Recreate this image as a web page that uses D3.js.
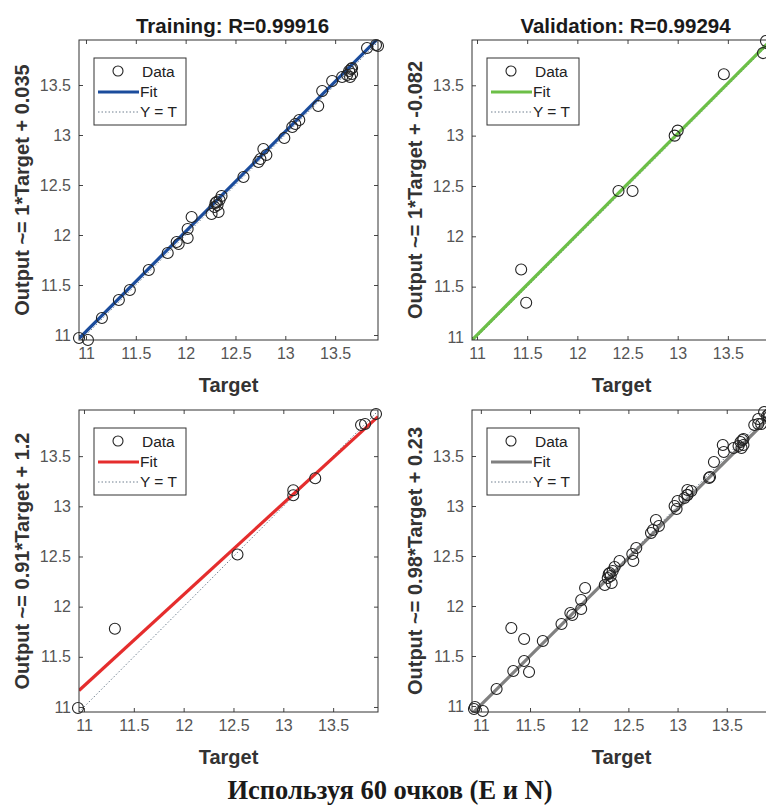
<!DOCTYPE html>
<html>
<head>
<meta charset="utf-8">
<script src="https://cdn.jsdelivr.net/npm/d3@7"></script>
<style>
  body { margin: 0; background: #fff; }
  svg { display: block; }
  .tick text { font-family: "Liberation Sans", Arial, sans-serif; font-size: 16px; fill: #555; }
  .tick line { stroke: #444; }
</style>
</head>
<body>
<div id="chart"></div>
<script>
// training points: [target, output]
const trainPoints = [
  [10.93, 10.97], [11.02, 10.95], [11.16, 11.17], [11.33, 11.35], [11.44, 11.45],
  [11.63, 11.65], [11.82, 11.82], [11.91, 11.93], [11.93, 11.91], [12.02, 11.97],
  [12.02, 12.06], [12.06, 12.18], [12.26, 12.21], [12.29, 12.28], [12.31, 12.33],
  [12.32, 12.30], [12.33, 12.23], [12.34, 12.35], [12.36, 12.39], [12.58, 12.58],
  [12.73, 12.73], [12.75, 12.76], [12.78, 12.86], [12.81, 12.80], [12.99, 12.97],
  [13.07, 13.08], [13.10, 13.11], [13.14, 13.15], [13.33, 13.29], [13.37, 13.44],
  [13.47, 13.54], [13.57, 13.58], [13.62, 13.60], [13.64, 13.64], [13.65, 13.58],
  [13.66, 13.66], [13.67, 13.61], [13.67, 13.67], [13.82, 13.87], [13.91, 13.90],
  [13.93, 13.89], [12.30, 12.32]
];
const validPoints = [
  [11.44, 11.67], [11.49, 11.34], [12.41, 12.45], [12.55, 12.45], [12.97, 13.00],
  [13.00, 13.05], [13.46, 13.61], [13.85, 13.82], [13.88, 13.94]
];
const testPoints = [
  [10.94, 10.99], [11.31, 11.78], [12.54, 12.52], [13.10, 13.11], [13.10, 13.16],
  [13.32, 13.28], [13.78, 13.81], [13.82, 13.82], [13.93, 13.92]
];
const allPoints = trainPoints.concat(validPoints, testPoints);

const panelTitles = ["Training: R=0.99916", "Validation: R=0.99294", "", ""];
// fitted lines as drawn in the picture
const fitSlopes = [1, 1, 0.91, 0.98];
const fitIntercepts = [0.035, 0.02, 1.2, 0.23];
const yLabels = [
  "Output ~= 1*Target + 0.035",
  "Output ~= 1*Target + -0.082",
  "Output ~= 0.91*Target + 1.2",
  "Output ~= 0.98*Target + 0.23"
];
const fitColors = ["#1b4c9c", "#6cbf47", "#e52d2d", "#808080"];
const xLimits = [[10.93, 13.93], [10.95, 13.93], [10.95, 13.95], [10.91, 13.95]];
const yLimits = [[10.95, 13.95], [10.97, 13.95], [10.95, 13.96], [10.94, 13.96]];
const tickValues = [11, 11.5, 12, 12.5, 13, 13.5];
const tickLabels = ["11", "11.5", "12", "12.5", "13", "13.5"];
const legendLabels = ["Data", "Fit", "Y = T"];
const caption = "Используя 60 очков (E и N)";

const panelData = [trainPoints, validPoints, testPoints, allPoints];
const panelBoxes = [
  { left: 79, top: 40, w: 299, h: 300 },
  { left: 472, top: 40, w: 299, h: 300 },
  { left: 79, top: 410, w: 299, h: 302 },
  { left: 472, top: 410, w: 299, h: 302 }
];

const svg = d3.select("#chart").append("svg")
  .attr("width", 766)
  .attr("height", 806);

panelData.forEach((pts, i) => {
  const b = panelBoxes[i];
  const g = svg.append("g").attr("transform", `translate(${b.left},${b.top})`);
  const x = d3.scaleLinear().domain(xLimits[i]).range([0, b.w]);
  const y = d3.scaleLinear().domain(yLimits[i]).range([b.h, 0]);
  const fmt = v => tickLabels[tickValues.indexOf(v)];

  g.append("rect").attr("width", b.w).attr("height", b.h).attr("fill", "#fff");

  g.append("g").attr("transform", `translate(0,${b.h})`)
    .call(d3.axisBottom(x).tickValues(tickValues).tickFormat(fmt).tickSize(-4).tickSizeOuter(0).tickPadding(8))
    .call(a => a.select(".domain").remove());
  g.append("g")
    .call(d3.axisTop(x).tickValues(tickValues).tickFormat("").tickSize(-4).tickSizeOuter(0))
    .call(a => a.select(".domain").remove());
  g.append("g")
    .call(d3.axisLeft(y).tickValues(tickValues).tickFormat(fmt).tickSize(-4).tickSizeOuter(0).tickPadding(8))
    .call(a => a.select(".domain").remove());
  g.append("g").attr("transform", `translate(${b.w},0)`)
    .call(d3.axisRight(y).tickValues(tickValues).tickFormat("").tickSize(-4).tickSizeOuter(0))
    .call(a => a.select(".domain").remove());

  const clipId = "clip" + i;
  g.append("clipPath").attr("id", clipId)
    .append("rect").attr("width", b.w).attr("height", b.h);
  const plot = g.append("g").attr("clip-path", `url(#${clipId})`);

  // Y = T
  const lo = Math.max(xLimits[i][0], yLimits[i][0]);
  const hi = Math.min(xLimits[i][1], yLimits[i][1]);
  plot.append("line")
    .attr("x1", x(lo)).attr("y1", y(lo))
    .attr("x2", x(hi)).attr("y2", y(hi))
    .attr("stroke", "#6f7f8f").attr("stroke-width", 1)
    .attr("stroke-dasharray", "1.5,2");

  // data (markers are not clipped)
  g.append("g").selectAll("circle").data(pts).enter().append("circle")
    .attr("cx", d => x(d[0])).attr("cy", d => y(d[1]))
    .attr("r", 5.5)
    .attr("fill", "none").attr("stroke", "#222").attr("stroke-width", 1.1);

  // fit
  const fx = xLimits[i];
  plot.append("line")
    .attr("x1", x(fx[0])).attr("y1", y(fitSlopes[i] * fx[0] + fitIntercepts[i]))
    .attr("x2", x(fx[1])).attr("y2", y(fitSlopes[i] * fx[1] + fitIntercepts[i]))
    .attr("stroke", fitColors[i]).attr("stroke-width", 3.2);

  g.append("rect").attr("width", b.w).attr("height", b.h)
    .attr("fill", "none").attr("stroke", "#333").attr("stroke-width", 1);

  // legend
  const lg = g.append("g").attr("transform", "translate(15,18)");
  lg.append("rect").attr("width", 92).attr("height", 67)
    .attr("fill", "#fff").attr("stroke", "#333").attr("stroke-width", 1);
  lg.append("circle").attr("cx", 24).attr("cy", 13).attr("r", 5)
    .attr("fill", "none").attr("stroke", "#222").attr("stroke-width", 1.1);
  lg.append("line").attr("x1", 4).attr("x2", 45).attr("y1", 34).attr("y2", 34)
    .attr("stroke", fitColors[i]).attr("stroke-width", 3.2);
  lg.append("line").attr("x1", 4).attr("x2", 45).attr("y1", 54).attr("y2", 54)
    .attr("stroke", "#6f7f8f").attr("stroke-width", 1).attr("stroke-dasharray", "1.5,2");
  lg.selectAll("text").data(legendLabels).enter().append("text")
    .attr("x", (d, k) => k === 0 ? 48 : 46)
    .attr("y", (d, k) => 18.5 + k * 20)
    .attr("font-family", "Liberation Sans, Arial, sans-serif")
    .attr("font-size", 15.5).attr("fill", "#222")
    .text(d => d);

  // labels
  if (panelTitles[i]) {
    g.append("text")
      .attr("x", b.w / 2 + 4).attr("y", -7)
      .attr("text-anchor", "middle")
      .attr("font-family", "Liberation Sans, Arial, sans-serif")
      .attr("font-weight", "bold").attr("font-size", 20.5).attr("fill", "#1a1a1a")
      .text(panelTitles[i]);
  }
  g.append("text")
    .attr("x", b.w / 2).attr("y", b.h + 52)
    .attr("text-anchor", "middle")
    .attr("font-family", "Liberation Sans, Arial, sans-serif")
    .attr("font-weight", "bold").attr("font-size", 20).attr("fill", "#333")
    .text("Target");
  g.append("text")
    .attr("transform", `translate(-50,${b.h / 2}) rotate(-90)`)
    .attr("text-anchor", "middle")
    .attr("font-family", "Liberation Sans, Arial, sans-serif")
    .attr("font-weight", "bold").attr("font-size", 20).attr("fill", "#333")
    .text(yLabels[i]);
});

svg.append("text")
  .attr("x", 390).attr("y", 799)
  .attr("text-anchor", "middle")
  .attr("font-family", "Liberation Serif, Times New Roman, serif")
  .attr("font-weight", "bold").attr("font-size", 26.5).attr("fill", "#1a1a1a")
  .text(caption);
</script>
</body>
</html>
